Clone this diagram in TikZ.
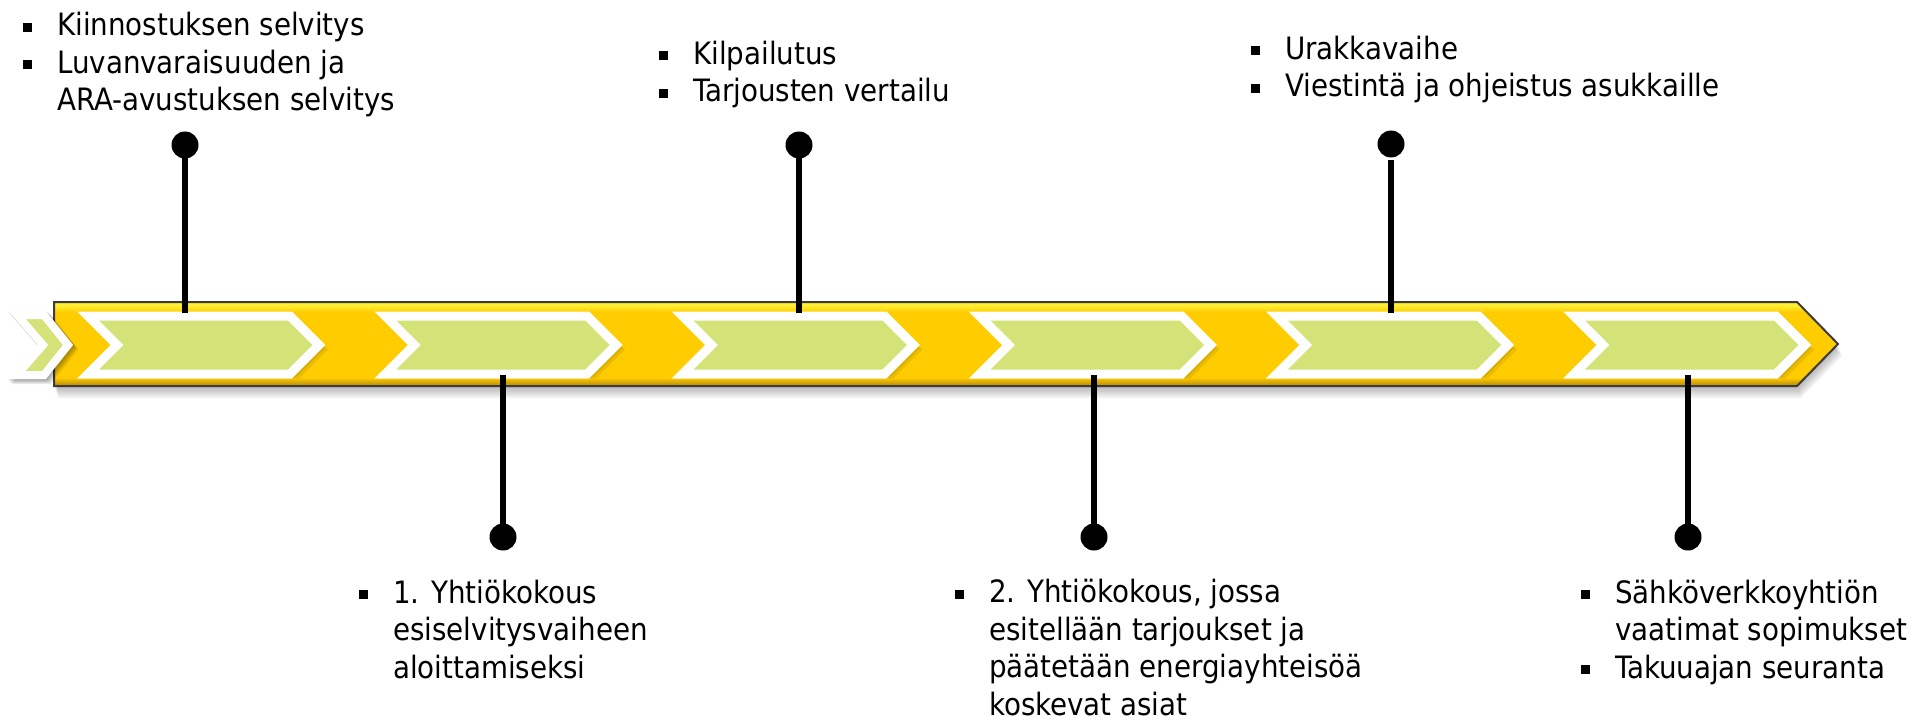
\documentclass[tikz,border=0pt]{standalone}
\usepackage{fontspec}
\setmainfont{DejaVu Sans Condensed}
\usetikzlibrary{calc}
\definecolor{barmain}{RGB}{255,204,0}
\definecolor{barlight}{RGB}{255,238,50}
\definecolor{bardark}{RGB}{180,135,10}
\definecolor{barline}{RGB}{60,60,60}
\definecolor{chevgreen}{RGB}{211,227,120}
\pgfdeclareverticalshading{barshade}{100bp}{color(0bp)=(bardark); color(25bp)=(bardark);
  color(30bp)=(barmain); color(69bp)=(barmain); color(73bp)=(barlight);
  color(75bp)=(barlight); color(100bp)=(barlight)}
\newcommand\notefont{\fontsize{30.8}{37.5}\selectfont}
\newcommand\bul{\makebox[34pt][l]{\rule[4pt]{9pt}{9pt}}}
\newcommand\ind{\hspace*{34pt}}
% chevron outline: #1 = left x, #2 = width
\newcommand\chevpath[2]{(#1,316) -- (#1+#2-29,316) -- (#1+#2,345) -- (#1+#2-29,374)
  -- (#1,374) -- (#1+29,345) -- cycle}
\newcommand\startpath{(17,315) -- (44,315) -- (68,345) -- (44,375) -- (17,375)
  -- (43,345) -- cycle}
\tikzset{
  chev/.style={fill=chevgreen,draw=white,line width=9pt,line join=miter},
  chevshadow/.style={fill=black,opacity=0.08},
  stem/.style={line width=6pt,black},
  dot/.style={circle,fill=black,inner sep=0pt,minimum size=27pt},
  note/.style={font=\notefont,align=left,inner sep=0pt}
}
\begin{document}
\begin{tikzpicture}[x=1pt,y=-1pt]
  \useasboundingbox (0,0) rectangle (1913,722);
  % shadow and bar
  \foreach \s in {2,4,...,12}
    \fill[black,opacity=0.05,shift={(\s/3,\s)}] (54,302) -- (1797,302) -- (1838,344)
      -- (1797,386) -- (54,386) -- cycle;
  \shadedraw[shading=barshade,draw=barline,line width=2pt] (54,302) -- (1797,302)
    -- (1838,344) -- (1797,386) -- (54,386) -- cycle;
  % chevrons
  \foreach \i in {0,...,5} {
    \pgfmathsetmacro\cx{88+297.2*\i}
    \foreach \s in {3,6,9}
      \fill[chevshadow,shift={(\s,\s/2)}] \chevpath{\cx}{231};
    \draw[chev] \chevpath{\cx}{231};
  }
  % small chevron at the start
  \foreach \s in {1,3,5,7,9} {
    \begin{scope}[transparency group,opacity=0.08,shift={(\s/2,\s/2)}]
      \filldraw[black,line width=9pt,line join=miter] \startpath;
    \end{scope}
  }
  \draw[chev,line width=8pt] \startpath;
  % stems and dots
  \node[dot] (d1) at (185,145) {};
  \node[dot] (d2) at (503,537) {};
  \node[dot] (d3) at (799,145) {};
  \node[dot] (d4) at (1094,537) {};
  \node[dot] (d5) at (1391,144) {};
  \node[dot] (d6) at (1688,537) {};
  \coordinate (s1) at (185,313);
  \coordinate (s2) at (503,375);
  \coordinate (s3) at (799,313);
  \coordinate (s4) at (1094,375);
  \coordinate (s5) at (1391,313);
  \coordinate (s6) at (1688,375);
  \draw[stem] (d1.center) -- (s1);
  \draw[stem] (d2.center) -- (s2);
  \draw[stem] (d3.center) -- (s3);
  \draw[stem] (d4.center) -- (s4);
  \draw[stem] ([yshift=-2.5pt]d5.south) -- (s5);
  \draw[stem] (d6.center) -- (s6);
  % texts (anchored at the baseline of their last line)
  \node[note,anchor=base west] (t1) at (23,111)
    {\bul Kiinnostuksen selvitys\\\bul Luvanvaraisuuden ja\\\ind ARA-avustuksen selvitys};
  \node[note,anchor=base west] (t2) at (359,678)
    {\bul 1. Yhtiökokous\\\ind esiselvitysvaiheen\\\ind aloittamiseksi};
  \node[note,anchor=base west] (t3) at (659,102)
    {\bul Kilpailutus\\\bul Tarjousten vertailu};
  \node[note,anchor=base west] (t4) at (955,715)
    {\bul 2. Yhtiökokous, jossa\\\ind esitellään tarjoukset ja\\\ind päätetään energiayhteisöä\\\ind koskevat asiat};
  \node[note,anchor=base west] (t5) at (1251,97)
    {\bul Urakkavaihe\\\bul Viestintä ja ohjeistus asukkaille};
  \node[note,anchor=base west] (t6) at (1581,678)
    {\bul Sähköverkkoyhtiön\\\ind vaatimat sopimukset\\\bul Takuuajan seuranta};
\end{tikzpicture}
\end{document}
